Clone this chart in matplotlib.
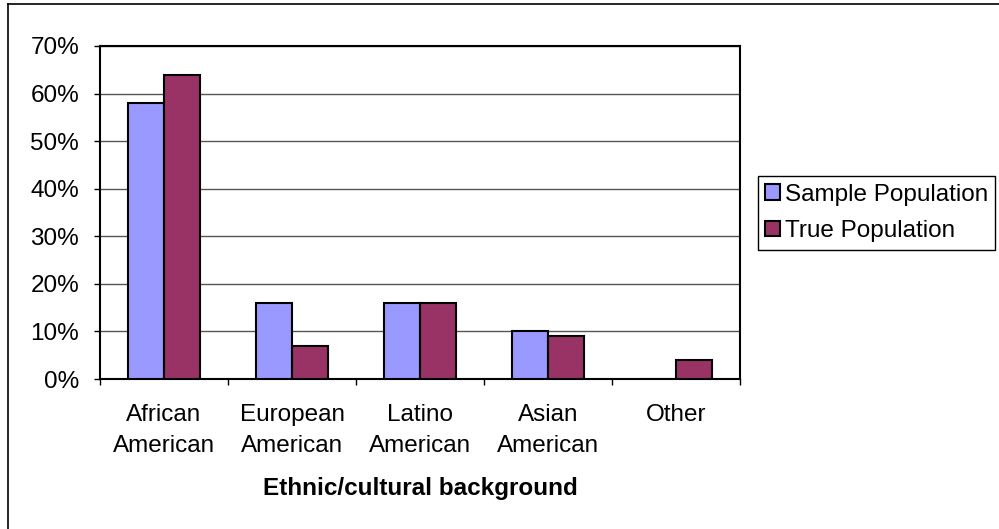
import numpy as np
import matplotlib.pyplot as plt
from matplotlib.lines import Line2D

plt.rcParams['font.family'] = ['Liberation Sans', 'DejaVu Sans']

categories = ["African\nAmerican", "European\nAmerican", "Latino\nAmerican", "Asian\nAmerican", "Other"]
sample_pop = [58, 16, 16, 10, 0]
true_pop = [64, 7, 16, 9, 4]
yticks = [0, 10, 20, 30, 40, 50, 60, 70]

fs = 17.5

fig = plt.figure(figsize=(9.99, 5.29), dpi=100)
ax = fig.add_axes([100 / 999, 1 - 379 / 529, 640 / 999, 333 / 529])

x = np.arange(len(categories))
w = 0.28
ax.bar(x - w / 2, sample_pop, w, color='#9999FF', edgecolor='black', linewidth=1.5,
       label='Sample Population', zorder=3)
ax.bar(x + w / 2, true_pop, w, color='#993366', edgecolor='black', linewidth=1.5,
       label='True Population', zorder=3)

ax.set_xlim(-0.5, len(categories) - 0.5)
ax.set_ylim(0, 70)
ax.set_yticks(yticks)
ax.set_yticklabels([f"{v}%" for v in yticks], fontsize=fs)
ax.yaxis.grid(True, color='#555555', linewidth=1, zorder=0)

# category labels centred, tick marks between categories
ax.set_xticks(x)
ax.set_xticklabels(categories, fontsize=fs, linespacing=1.55)
ax.tick_params(axis='x', which='major', length=0, pad=18)
ax.set_xticks(np.arange(-0.5, len(categories)), minor=True)
ax.tick_params(axis='x', which='minor', length=4, width=1, color='black')
ax.tick_params(axis='y', length=4, width=1, pad=11)
ax.set_xlabel("Ethnic/cultural background", fontsize=fs, fontweight='bold', labelpad=14)

for s in ax.spines.values():
    s.set_linewidth(1.5)
    s.set_color('black')

leg = ax.legend(loc='center left', bbox_to_anchor=(758 / 999, 1 - 213 / 529),
                bbox_transform=fig.transFigure, fontsize=fs, frameon=True,
                fancybox=False, edgecolor='black', framealpha=1,
                handlelength=0.6, handleheight=0.6, handletextpad=0.2,
                borderpad=0.3, labelspacing=0.6, borderaxespad=0)
leg.get_frame().set_linewidth(1)

# chart area border (clipped on the right and bottom)
fig.add_artist(Line2D([8 / 999, 8 / 999], [0, 1 - 4 / 529], color='black', linewidth=1.2,
                      transform=fig.transFigure))
fig.add_artist(Line2D([8 / 999, 1], [1 - 4 / 529, 1 - 4 / 529], color='black', linewidth=1.2,
                      transform=fig.transFigure))

fig.savefig("out.png", dpi=100)
